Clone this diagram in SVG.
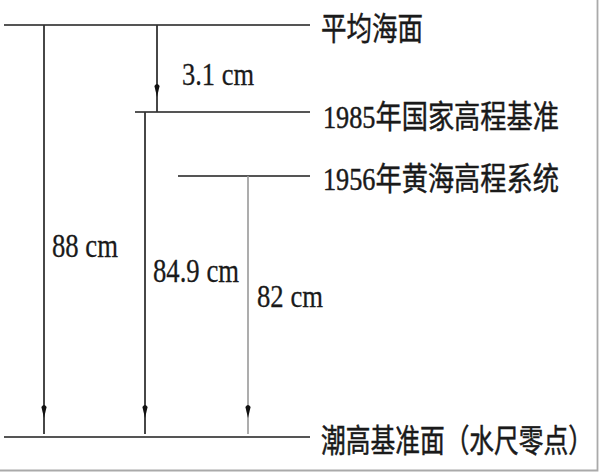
<svg xmlns="http://www.w3.org/2000/svg" width="600" height="475" viewBox="0 0 600 475">
  <style>
    .lvl { stroke: #555; stroke-width: 2.2; fill: none; }
    .vd { stroke: #333; stroke-width: 1.8; fill: none; }
    .vl { stroke: #999; stroke-width: 1.6; fill: none; }
    .big { font-family: "Liberation Serif", "Noto Sans CJK SC", serif; fill: #1a1a1a; stroke: #1a1a1a; stroke-width: 0.4; }
    .lab { font-family: "Liberation Serif", serif; fill: #1a1a1a; stroke: #1a1a1a; stroke-width: 0.3; }
    .frame { stroke: #aaa; stroke-width: 1.8; fill: none; }
  </style>
  <defs>
    <path id="ah" d="M0,0 L-2.6,-11 Q0,-15 2.6,-11 Z" fill="#111"/>
  </defs>
  <rect x="0" y="0" width="600" height="475" fill="#fff"/>
  <path class="frame" d="M597.5,0 V470.5 H0"/>

  <g id="mean-sea-level">
    <line class="lvl" x1="4" y1="25" x2="310" y2="25"/>
    <text class="big" transform="translate(321,40) scale(1,1.14)" x="0" y="0" font-size="28" textLength="102" lengthAdjust="spacingAndGlyphs">平均海面</text>
  </g>
  <g id="datum-1985">
    <line class="lvl" x1="135" y1="112" x2="310" y2="112"/>
    <text class="big" transform="translate(323,128) scale(1,1.14)" x="0" y="0" font-size="28" textLength="236" lengthAdjust="spacingAndGlyphs">1985年国家高程基准</text>
  </g>
  <g id="datum-1956">
    <line class="lvl" x1="178" y1="176" x2="310" y2="176"/>
    <text class="big" transform="translate(323,190) scale(1,1.14)" x="0" y="0" font-size="28" textLength="236" lengthAdjust="spacingAndGlyphs">1956年黄海高程系统</text>
  </g>
  <g id="chart-datum">
    <line class="lvl" x1="4" y1="437" x2="310" y2="437"/>
    <text class="big" transform="translate(321,452) scale(1,1.28)" x="0" y="0" font-size="25" textLength="272" lengthAdjust="spacingAndGlyphs">潮高基准面（水尺零点）</text>
  </g>

  <g id="connectors">
    <line class="vd" x1="157" y1="25" x2="157" y2="112"/>
    <use href="#ah" x="157" y="97"/>
    <line class="vd" x1="44" y1="25" x2="44" y2="434"/>
    <use href="#ah" x="44" y="418"/>
    <line class="vd" x1="145" y1="112" x2="145" y2="434"/>
    <use href="#ah" x="145" y="418"/>
    <line class="vl" x1="248" y1="176" x2="248" y2="434"/>
    <use href="#ah" x="248" y="418"/>
    <text class="lab" x="182" y="85" font-size="32" textLength="72" lengthAdjust="spacingAndGlyphs">3.1 cm</text>
    <text class="lab" x="52" y="257" font-size="34" textLength="66" lengthAdjust="spacingAndGlyphs">88 cm</text>
    <text class="lab" x="153" y="282" font-size="34" textLength="86" lengthAdjust="spacingAndGlyphs">84.9 cm</text>
    <text class="lab" x="257" y="307" font-size="32" textLength="66" lengthAdjust="spacingAndGlyphs">82 cm</text>
  </g>
</svg>
